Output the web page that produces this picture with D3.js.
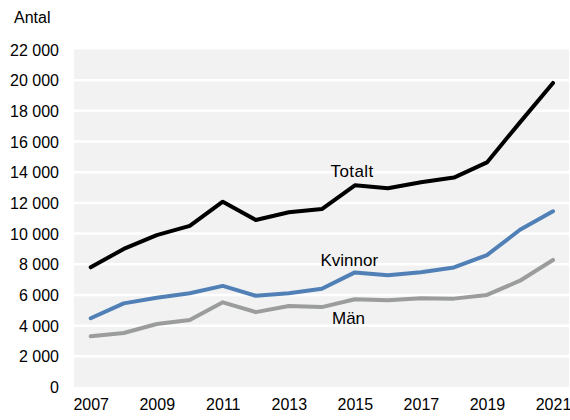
<!DOCTYPE html>
<html><head><meta charset="utf-8">
<script src="https://cdn.jsdelivr.net/npm/d3@7"></script>
<style>
html,body{margin:0;padding:0;background:#fff;}
text{font-family:"Liberation Sans",Arial,Helvetica,sans-serif;fill:#000;}
</style></head>
<body><svg id="c" width="570" height="420"></svg>
<script>
const years = [2007,2008,2009,2010,2011,2012,2013,2014,2015,2016,2017,2018,2019,2020,2021];
const totalt = [7800,9000,9900,10500,12080,10890,11390,11600,13150,12950,13350,13650,14640,17250,19820];
const kvinnor = [4480,5450,5820,6110,6590,5950,6110,6400,7470,7280,7480,7790,8600,10250,11450];
const man = [3310,3520,4110,4370,5520,4880,5280,5210,5720,5650,5790,5760,6000,6930,8280];
const yTicks = [0,2000,4000,6000,8000,10000,12000,14000,16000,18000,20000,22000];
const xTicks = [2007,2009,2011,2013,2015,2017,2019,2021];
const seriesNames = ["Totalt","Kvinnor","Män"];

const svg = d3.select("#c");
const L = 74, R = 569, T = 49.5, B = 387;
const x = d3.scaleLinear().domain([2007,2021]).range([90.7,553]);
const y = d3.scaleLinear().domain([0,22000]).range([B,T]);

svg.append("rect").attr("x",L).attr("y",T).attr("width",R-L).attr("height",B-T).attr("fill","#f2f2f2");

const fmt = v => d3.format(",")(v).replace(/,/g," ");

svg.append("g").selectAll("line").data(yTicks.filter(d=>d>0 && d<22000)).join("line")
  .attr("x1",L).attr("x2",R).attr("y1",d=>y(d)).attr("y2",d=>y(d))
  .attr("stroke","#fff").attr("stroke-width",2.5);

const yAxis = d3.axisLeft(y).tickValues(yTicks).tickFormat(fmt).tickSize(0).tickPadding(0);
const gy = svg.append("g").attr("transform","translate(59,0)").call(yAxis);
gy.select(".domain").remove();
gy.selectAll("text").attr("font-size",16).attr("fill","#000").attr("dy","0.35em")
  .style("font-family","'Liberation Sans',Arial,sans-serif");

const xAxis = d3.axisBottom(x).tickValues(xTicks).tickFormat(d3.format("d")).tickSize(0).tickPadding(0);
const gx = svg.append("g").attr("transform","translate(0,399)").call(xAxis);
gx.select(".domain").remove();
gx.selectAll("text").attr("font-size",16).attr("fill","#000").attr("dy","0.71em")
  .style("font-family","'Liberation Sans',Arial,sans-serif");

const line = d3.line().x((d,i)=>x(years[i])).y(d=>y(d));
const series = [
  {name:seriesNames[0], vals:totalt, color:"#000000"},
  {name:seriesNames[1], vals:kvinnor, color:"#5080b6"},
  {name:seriesNames[2], vals:man, color:"#9b9c9c"}
];
svg.append("g").selectAll("path").data(series.slice().reverse()).join("path")
  .attr("d",d=>line(d.vals)).attr("fill","none").attr("stroke",d=>d.color)
  .attr("stroke-width",4).attr("stroke-linejoin","round").attr("stroke-linecap","round");

svg.append("text").attr("x",14).attr("y",23).attr("font-size",16).text("Antal");
svg.append("text").attr("x",330.5).attr("y",177).attr("font-size",17).attr("letter-spacing",0.4).text(seriesNames[0]);
svg.append("text").attr("x",320.5).attr("y",266).attr("font-size",17).text(seriesNames[1]);
svg.append("text").attr("x",332).attr("y",324).attr("font-size",17).text(seriesNames[2]);
</script></body></html>
